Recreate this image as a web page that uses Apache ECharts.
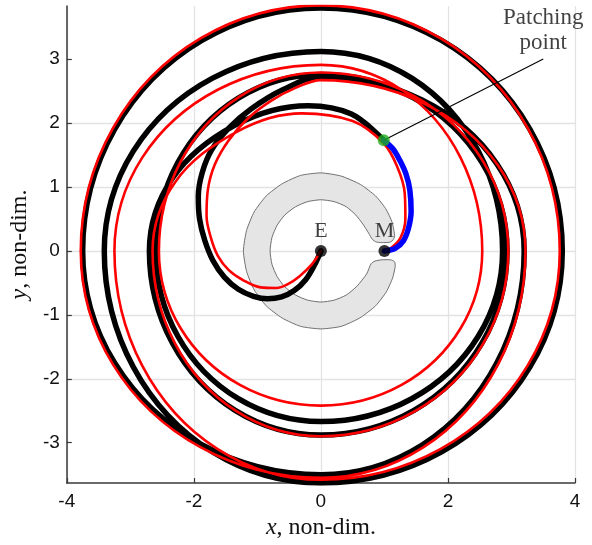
<!DOCTYPE html>
<html><head><meta charset="utf-8">
<script src="https://cdn.jsdelivr.net/npm/echarts@6/dist/echarts.min.js"></script>
<style>html,body{margin:0;padding:0;background:#fff}#c{width:592px;height:545px}</style>
</head><body><div id="c"></div>
<script>
const xTicks = [-4, -2, 0, 2, 4];
const yTicks = [-3, -2, -1, 0, 1, 2, 3];
const xRange = [-4, 4];
const yRange = [-3.63, 3.83];

const blackPath = [
[0,0],[-0.1,-0.22],[-0.24,-0.45],[-0.42,-0.62],[-0.62,-0.72],[-0.84,-0.75],[-1.06,-0.71],[-1.3,-0.6],[-1.52,-0.41],[-1.7,-0.15],[-1.83,0.17],[-1.91,0.5],[-1.93,0.85],[-1.87,1.22],[-1.72,1.58],[-1.45,1.92],[-1.1,2.22],[-0.6,2.52],
[0,2.72],[1.6,2.356],[2.771,1.36],
[3.2,0],[2.771,-1.75],[1.6,-3.031],
[0,-3.5],[-1.875,-3.031],[-3.248,-1.75],
[-3.75,0],[-3.248,1.9],[-1.875,3.291],
[0,3.8],[1.9,3.291],[3.291,1.9],
[3.8,0],[3.291,-1.815],[1.9,-3.144],
[0,-3.63],[-1.705,-3.144],[-2.953,-1.815],
[-3.41,0],[-2.953,1.56],[-1.705,2.702],
[0,3.12],[1.43,2.702],[2.477,1.56],
[2.86,0],[2.477,-1.335],[1.43,-2.312],
[0,-2.67],[-1.3,-2.312],[-2.252,-1.335],
[-2.6,0],[-2.252,1.38],[-1.3,2.39],
[0,2.76],[1.465,2.39],[2.537,1.38],
[2.93,0],[2.537,-1.44],[1.465,-2.494],
[0,-2.88],[-1.35,-2.494],[-2.338,-1.44],
[-2.7,0],[-2.338,1.135],[-1.35,1.966],
[-0.2,2.27],[0.48,2.14],[0.99,1.73]
];
const redPath = [
[0,0],[-0.15,-0.22],[-0.34,-0.4],[-0.52,-0.52],[-0.7,-0.58],[-0.95,-0.57],[-1.22,-0.46],[-1.45,-0.3],[-1.62,-0.08],[-1.73,0.2],[-1.8,0.55],[-1.78,0.95],[-1.67,1.35],[-1.45,1.73],[-1.15,2.07],[-0.78,2.35],[-0.4,2.55],
[0,2.67],[1.61,2.312],[2.789,1.335],
[3.22,0],[2.789,-1.775],[1.61,-3.074],
[0,-3.55],[-1.89,-3.074],[-3.273,-1.775],
[-3.78,0],[-3.273,1.92],[-1.89,3.326],
[0,3.84],[1.88,3.326],[3.256,1.92],
[3.76,0],[3.256,-1.79],[1.88,-3.1],
[0,-3.58],[-1.625,-3.1],[-2.815,-1.79],
[-3.25,0],[-2.815,1.455],[-1.625,2.52],
[0,2.91],[1.27,2.52],[2.2,1.455],
[2.54,0],[2.2,-1.21],[1.27,-2.096],
[0,-2.42],[-1.275,-2.096],[-2.208,-1.21],
[-2.55,0],[-2.208,1.395],[-1.275,2.416],
[0,2.79],[1.475,2.416],[2.555,1.395],
[2.95,0],[2.555,-1.45],[1.475,-2.511],
[0,-2.9],[-1.325,-2.511],[-2.295,-1.45],
[-2.65,0],[-2.295,1.075],[-1.325,1.862],
[-0.3,2.15],[0.5,2.03],[0.99,1.68],[1.2,1.32],[1.32,0.9],[1.33,0.5],[1.25,0.2],[1.1,0.04],[1.0,0]
];
const bluePath = [[0.99,1.73],[1.13,1.6],[1.24,1.42],[1.34,1.2],[1.4,0.95],[1.42,0.62],[1.38,0.36],[1.3,0.16],[1.17,0.04],[1.0,0]];
const regionPath = [
[1.16,0.22],[1.12,0.45],[1.02,0.66],[0.86,0.86],[0.62,1.04],[0.32,1.17],[0,1.22],[-0.32,1.18],[-0.61,1.05],[-0.86,0.86],[-1.05,0.61],[-1.17,0.32],[-1.22,0],
[-1.17,-0.32],[-1.05,-0.61],[-0.86,-0.86],[-0.61,-1.05],[-0.32,-1.18],[0,-1.22],[0.32,-1.18],[0.61,-1.05],[0.86,-0.86],[1.03,-0.64],[1.13,-0.42],[1.17,-0.24],
[1.16,-0.17],[1.1,-0.14],[0.95,-0.14],[0.85,-0.16],[0.79,-0.2],[0.72,-0.36],[0.57,-0.55],[0.4,-0.69],[0.21,-0.77],[0,-0.8],[-0.21,-0.77],[-0.4,-0.69],[-0.57,-0.56],
[-0.69,-0.4],[-0.77,-0.21],[-0.8,0],[-0.77,0.21],[-0.69,0.4],[-0.57,0.56],[-0.4,0.69],[-0.21,0.77],[0,0.8],[0.21,0.77],[0.4,0.69],[0.55,0.56],[0.66,0.42],[0.75,0.28],
[0.81,0.18],[0.87,0.14],[0.95,0.13],[1.1,0.14]
];
const bodyNames = ['E', 'M'];
const bodyX = [0, 1];
const bodyY = [0, 0];
const patchPoint = [0.99, 1.73];
const calloutEnd = [3.5, 3.0];
const calloutText = 'Patching\npoint';

const serif = 'Liberation Serif';
const sans = 'Liberation Sans';

const chart = echarts.init(document.getElementById('c'), null, {renderer: 'canvas'});
const option = {
  animation: false,
  backgroundColor: '#fff',
  grid: {left: 62, right: 17, top: 6, bottom: 62},
  xAxis: {
    type: 'value', min: xRange[0], max: xRange[1], interval: 2,
    axisLine: {onZero: false, lineStyle: {color: '#3a3a3a', width: 1.5}},
    axisTick: {inside: true, length: 5, lineStyle: {color: '#3a3a3a', width: 1.2}},
    axisLabel: {fontFamily: sans, fontSize: 19, color: '#111', margin: 9},
    splitLine: {show: true, lineStyle: {color: '#e3e3e3', width: 1.3}},
    name: '{i|x}, non-dim.', nameLocation: 'middle', nameGap: 29,
    nameTextStyle: {fontFamily: serif, fontSize: 24, color: '#111',
      rich: {i: {fontFamily: serif, fontStyle: 'italic', fontSize: 24, color: '#111'}}}
  },
  yAxis: {
    type: 'value', min: yRange[0], max: yRange[1],
    axisLine: {onZero: false, lineStyle: {color: '#3a3a3a', width: 1.5}},
    axisTick: {inside: true, length: 5, customValues: yTicks, lineStyle: {color: '#3a3a3a', width: 1.2}},
    axisLabel: {fontFamily: sans, fontSize: 19, color: '#111', margin: 7, customValues: yTicks},
    splitLine: {show: true, showMinLine: false, showMaxLine: false, lineStyle: {color: '#e3e3e3', width: 1.3}},
    name: '{i|y}, non-dim.', nameLocation: 'middle', nameGap: 23, nameRotate: 90,
    nameTextStyle: {fontFamily: serif, fontSize: 24, color: '#111',
      rich: {i: {fontFamily: serif, fontStyle: 'italic', fontSize: 24, color: '#111'}}}
  },
  series: [
    {
      type: 'custom', z: 1, silent: true,
      data: [0],
      renderItem: function (params, api) {
        return {
          type: 'polygon',
          shape: {points: regionPath.map(p => api.coord(p)), smooth: 0.2},
          style: {fill: '#e5e5e5', stroke: '#707070', lineWidth: 1}
        };
      }
    },
    {type: 'line', z: 2, data: blackPath, smooth: 0.36, showSymbol: false, symbol: 'none',
     lineStyle: {color: '#000', width: 5.5, cap: 'round', join: 'round'}, clip: true},
    {type: 'line', z: 3, data: redPath, smooth: 0.36, showSymbol: false, symbol: 'none',
     lineStyle: {color: '#ff0000', width: 2.6, cap: 'round', join: 'round'}, clip: true},
    {type: 'line', z: 4, data: bluePath, smooth: 0.36, showSymbol: false, symbol: 'none',
     lineStyle: {color: '#0000ff', width: 5.5, cap: 'round', join: 'round'}},
    {type: 'line', z: 5, data: [patchPoint, calloutEnd], showSymbol: false, symbol: 'none',
     lineStyle: {color: '#000', width: 1.1}},
    {type: 'scatter', z: 6, symbolSize: 12,
     data: bodyNames.map((n, i) => ({name: n, value: [bodyX[i], bodyY[i]]})),
     itemStyle: {color: '#000'},
     label: {show: true, position: 'top', distance: 3, formatter: '{b}', fontFamily: serif, fontSize: 22, color: '#111'}},
    {type: 'scatter', z: 7, symbolSize: 12, data: [patchPoint], itemStyle: {color: '#1fae1f'}},
    {type: 'scatter', z: 7, symbolSize: 0, data: [calloutEnd],
     label: {show: true, position: 'top', distance: 4, formatter: calloutText, fontFamily: serif, fontSize: 23, lineHeight: 25, color: '#111', align: 'center'}}
  ]
};
chart.setOption(option);
</script>
</body></html>
